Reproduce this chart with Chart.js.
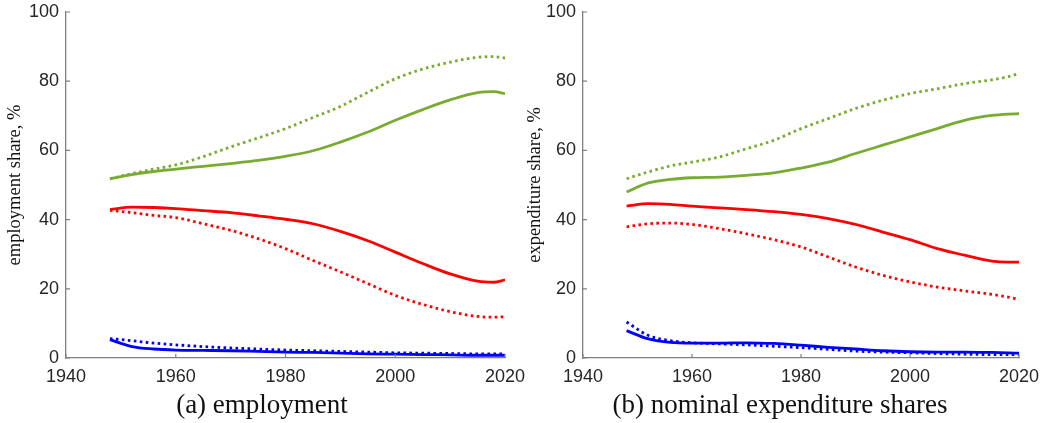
<!DOCTYPE html>
<html>
<head>
<meta charset="utf-8">
<script src="https://cdn.jsdelivr.net/npm/chart.js@4/dist/chart.umd.min.js"></script>
<style>
  body { margin: 0; background: #fff; width: 1047px; height: 423px; position: relative; overflow: hidden; }
  .panel { position: absolute; top: 0; }
  .caption { position: absolute; top: 387px; font-family: "Liberation Serif", serif; font-size: 27px; line-height: 34px; color: #111; text-align: center; white-space: nowrap; }
</style>
</head>
<body>
<div class="panel" style="left:0;width:530px;height:392px"><canvas id="graph_emp"></canvas></div>
<div class="panel" style="left:520px;width:527px;height:392px"><canvas id="graph_exp"></canvas></div>
<div class="caption" style="left:62px;width:400px">(a) employment</div>
<div class="caption" style="left:580px;width:400px">(b) nominal expenditure shares</div>
<script>
const years = [1948, 1952, 1956, 1960, 1965, 1970, 1975, 1980, 1985, 1990, 1995, 2000, 2005, 2010, 2015, 2018, 2020];
const xTicks = [1940, 1960, 1980, 2000, 2020];
const yTicks = [0, 20, 40, 60, 80, 100];

// (a) employment
const empGreenDot = [51.8, 53.3, 54.6, 55.8, 58.2, 61.0, 63.6, 66.3, 69.5, 72.7, 76.8, 80.7, 83.5, 85.5, 86.9, 87.1, 86.7];
const empGreenSol = [51.8, 53.0, 53.9, 54.6, 55.4, 56.2, 57.1, 58.3, 59.9, 62.4, 65.3, 68.7, 71.8, 74.6, 76.7, 77.0, 76.4];
const empRedSol   = [42.9, 43.6, 43.5, 43.2, 42.6, 42.0, 41.1, 40.1, 38.8, 36.6, 33.9, 30.6, 27.3, 24.3, 22.2, 21.9, 22.6];
const empRedDot   = [42.7, 42.0, 41.2, 40.6, 38.8, 36.9, 34.5, 31.6, 28.2, 24.9, 21.5, 18.1, 15.5, 13.4, 12.0, 11.8, 11.9];
const empBlueSol  = [5.3, 3.3, 2.6, 2.3, 2.2, 2.1, 1.9, 1.7, 1.6, 1.4, 1.2, 1.1, 1.0, 0.9, 0.8, 0.8, 0.8];
const empBlueDot  = [5.6, 5.0, 4.3, 3.8, 3.3, 2.9, 2.6, 2.3, 2.1, 1.9, 1.7, 1.5, 1.4, 1.3, 1.2, 1.2, 1.2];

// (b) nominal expenditure shares
const expGreenDot = [51.8, 53.8, 55.5, 56.6, 58.1, 60.5, 62.9, 66.3, 69.2, 72.1, 74.5, 76.4, 77.8, 79.3, 80.4, 81.3, 82.2];
const expGreenSol = [48.0, 50.6, 51.6, 52.1, 52.3, 52.8, 53.5, 54.9, 56.6, 59.1, 61.5, 63.9, 66.3, 68.7, 70.1, 70.5, 70.6];
const expRedSol   = [43.9, 44.6, 44.4, 43.9, 43.4, 42.9, 42.3, 41.5, 40.3, 38.6, 36.4, 34.2, 31.6, 29.7, 28.0, 27.7, 27.7];
const expRedDot   = [37.9, 38.8, 39.0, 38.6, 37.4, 35.9, 34.2, 32.1, 29.2, 26.3, 23.9, 22.0, 20.5, 19.4, 18.4, 17.6, 16.9];
const expBlueSol  = [7.9, 5.5, 4.5, 4.3, 4.3, 4.4, 4.2, 3.7, 3.1, 2.6, 2.1, 1.8, 1.7, 1.7, 1.6, 1.5, 1.4];
const expBlueDot  = [10.4, 6.5, 5.0, 4.4, 4.1, 3.8, 3.4, 3.0, 2.5, 2.0, 1.7, 1.5, 1.3, 1.1, 1.0, 1.0, 1.0];

const GREEN = '#77ac30', RED = '#ff0000', BLUE = '#0000ff';

function serie(vals, color, dotted) {
    return {
        data: vals.map((v, i) => ({ x: years[i], y: v })),
        borderColor: color,
        borderWidth: 2.8,
        borderDash: dotted ? [2.6, 3.4] : [],
        borderCapStyle: 'butt',
        pointRadius: 0,
        fill: false,
        cubicInterpolationMode: 'monotone'
    };
}

// petits ticks vers l'intérieur, comme matlab
const innerTicks = {
    id: 'innerTicks',
    afterDraw(chart) {
        const ctx = chart.ctx;
        const xs = chart.scales.x, ys = chart.scales.y;
        const a = chart.chartArea;
        ctx.save();
        ctx.strokeStyle = '#808080';
        ctx.lineWidth = 1.2;
        ctx.beginPath();
        xTicks.forEach(t => {
            const px = xs.getPixelForValue(t);
            ctx.moveTo(px, a.bottom);
            ctx.lineTo(px, a.bottom - 4);
        });
        yTicks.forEach(t => {
            const py = ys.getPixelForValue(t);
            ctx.moveTo(a.left, py);
            ctx.lineTo(a.left + 4, py);
        });
        ctx.stroke();
        ctx.restore();
    }
};

function makeChart(id, sets, yTitle, yWidth, padRight) {
    return new Chart(document.getElementById(id), {
        type: 'line',
        data: { datasets: sets },
        options: {
            responsive: true,
            maintainAspectRatio: false,
            animation: false,
            layout: { padding: { top: 12, right: padRight, left: 4, bottom: 0 } },
            plugins: { legend: { display: false }, tooltip: { enabled: false } },
            scales: {
                x: {
                    type: 'linear', min: 1940, max: 2020,
                    afterBuildTicks: s => { s.ticks = xTicks.map(v => ({ value: v })); },
                    afterFit: s => { s.height = 34; s.paddingLeft = 0; s.paddingRight = 0; },
                    grid: { display: false, drawTicks: false },
                    border: { display: true, color: '#808080', width: 1.3 },
                    ticks: { color: '#262626', font: { family: 'Liberation Sans', size: 18 }, padding: 8, maxRotation: 0,
                             callback: v => String(v) }
                },
                y: {
                    min: 0, max: 100,
                    afterBuildTicks: s => { s.ticks = yTicks.map(v => ({ value: v })); },
                    afterFit: s => { s.width = yWidth; s.paddingTop = 0; s.paddingBottom = 0; },
                    grid: { display: false, drawTicks: false },
                    border: { display: true, color: '#808080', width: 1.3 },
                    ticks: { color: '#262626', font: { family: 'Liberation Sans', size: 18 }, padding: 7 },
                    title: { display: true, text: yTitle, color: '#111', font: { family: 'Liberation Serif', size: 18.5 }, padding: { top: 0, bottom: 0 } }
                }
            }
        },
        plugins: [innerTicks]
    });
}

makeChart('graph_emp', [
    serie(empGreenDot, GREEN, true),
    serie(empGreenSol, GREEN, false),
    serie(empRedSol, RED, false),
    serie(empRedDot, RED, true),
    serie(empBlueSol, BLUE, false),
    serie(empBlueDot, BLUE, true)
], 'employment share, %', 62, 25);

makeChart('graph_exp', [
    serie(expGreenDot, GREEN, true),
    serie(expGreenSol, GREEN, false),
    serie(expRedSol, RED, false),
    serie(expRedDot, RED, true),
    serie(expBlueSol, BLUE, false),
    serie(expBlueDot, BLUE, true)
], 'expenditure share, %', 59, 28);
</script>
</body>
</html>
